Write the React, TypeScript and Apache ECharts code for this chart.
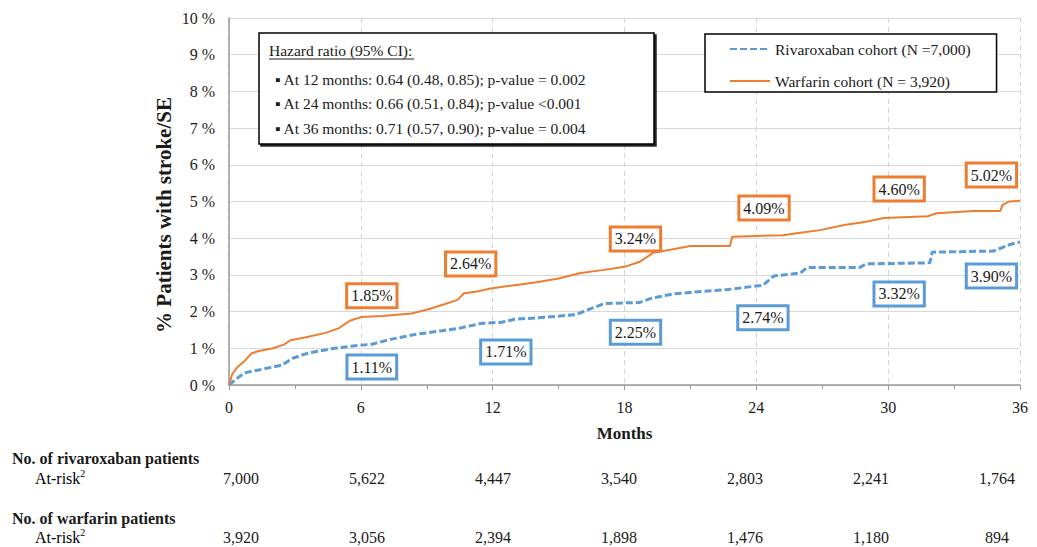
import React, { useEffect, useRef } from "react";
import * as echarts from "echarts";

const monthTicks = [0, 6, 12, 18, 24, 30, 36];

const rivaroxabanCurve: [number, number][] = [
  [0, 0], [0.3, 0.15], [0.7, 0.33], [1.35, 0.41], [2.4, 0.54], [2.9, 0.73], [3.6, 0.87],
  [4.8, 1.0], [5.9, 1.08], [6.5, 1.11], [7.4, 1.25], [8.5, 1.38], [9.7, 1.48], [10.5, 1.55],
  [11.5, 1.68], [12.4, 1.71], [13.0, 1.79], [14.5, 1.85], [15.8, 1.92], [16.5, 2.09],
  [17.1, 2.22], [18.7, 2.25], [19.2, 2.36], [20.2, 2.48], [21.5, 2.55], [22.7, 2.6],
  [24.3, 2.72], [24.8, 2.97], [26.0, 3.05], [26.3, 3.2], [28.7, 3.2], [29.0, 3.3],
  [31.9, 3.33], [32.0, 3.62], [34.8, 3.65], [35.5, 3.82], [36.0, 3.9],
];

const warfarinCurve: [number, number][] = [
  [0, 0], [0.15, 0.3], [0.4, 0.5], [0.7, 0.65], [1.0, 0.85], [1.3, 0.92], [2.0, 1.0],
  [2.5, 1.1], [2.8, 1.22], [3.5, 1.3], [4.4, 1.42], [5.0, 1.55], [5.5, 1.75], [6.0, 1.85],
  [7.0, 1.88], [8.3, 1.95], [9.0, 2.05], [9.8, 2.2], [10.4, 2.32], [10.7, 2.5], [11.3, 2.55],
  [11.9, 2.63], [13.0, 2.72], [14.0, 2.8], [15.0, 2.9], [16.0, 3.05], [17.0, 3.13],
  [18.0, 3.22], [18.7, 3.36], [19.3, 3.6], [20.2, 3.7], [21.0, 3.79], [22.8, 3.79],
  [22.9, 4.04], [24.0, 4.06], [25.2, 4.08], [26.0, 4.15], [26.9, 4.22], [28.0, 4.36],
  [29.0, 4.45], [29.8, 4.55], [31.8, 4.6], [32.2, 4.68], [33.9, 4.74], [35.1, 4.74],
  [35.2, 4.9], [35.5, 5.0], [36.0, 5.02],
];

// annotation boxes: [month, pct position, text]
const warfarinLabels: [number, number, string][] = [
  [6.5, 2.43, "1.85%"], [11.0, 3.3, "2.64%"], [18.5, 3.98, "3.24%"],
  [24.35, 4.82, "4.09%"], [30.5, 5.34, "4.60%"], [34.7, 5.72, "5.02%"],
];
const rivaroxabanLabels: [number, number, string][] = [
  [6.5, 0.49, "1.11%"], [12.6, 0.9, "1.71%"], [18.5, 1.44, "2.25%"],
  [24.3, 1.83, "2.74%"], [30.5, 2.48, "3.32%"], [34.7, 2.97, "3.90%"],
];

const rivaroxabanAtRisk = ["7,000", "5,622", "4,447", "3,540", "2,803", "2,241", "1,764"];
const warfarinAtRisk = ["3,920", "3,056", "2,394", "1,898", "1,476", "1,180", "894"];

const hazardLines = [
  "▪ At 12 months: 0.64 (0.48, 0.85); p-value = 0.002",
  "▪ At 24 months: 0.66 (0.51, 0.84); p-value <0.001",
  "▪ At 36 months: 0.71 (0.57, 0.90); p-value = 0.004",
];

const ORANGE = "#ED7D31";
const BLUE = "#5B9BD5";
const SERIF = "'Liberation Serif', 'Times New Roman', serif";
const TXT = "#1a1a1a";

function labelSeries(name: string, data: [number, number, string][], color: string) {
  return {
    name,
    type: "scatter",
    xAxisIndex: 0,
    yAxisIndex: 0,
    symbolSize: 1,
    itemStyle: { color: "rgba(0,0,0,0)", opacity: 1 },
    silent: true,
    z: 5,
    data: data.map((d) => ({ value: [d[0], d[1]], text: d[2] })),
    label: {
      show: true,
      position: "inside",
      formatter: (p: any) => p.data.text,
      fontFamily: SERIF,
      fontSize: 16,
      color: TXT,
      opacity: 1,
      backgroundColor: "#fff",
      borderColor: color,
      borderWidth: 3,
      padding: [3, 3, 2, 3],
    },
  };
}

function riskSeries(values: string[], row: number) {
  return {
    type: "scatter",
    xAxisIndex: 1,
    yAxisIndex: 1,
    symbolSize: 1,
    itemStyle: { color: "rgba(0,0,0,0)", opacity: 1 },
    silent: true,
    data: values.map((v, i) => ({ value: [monthTicks[i], row], text: v })),
    label: {
      show: true,
      position: "inside",
      formatter: (p: any) => p.data.text,
      fontFamily: SERIF,
      fontSize: 16,
      color: TXT,
      opacity: 1,
    },
  };
}

const atRiskRich = {
  a: { fontFamily: SERIF, fontSize: 16, color: TXT },
  s: { fontFamily: SERIF, fontSize: 10, color: TXT, padding: [0, 0, 9, 0] },
};

export default function App() {
  const ref = useRef<HTMLDivElement>(null);
  useEffect(() => {
    if (!ref.current) return;
    const chart = echarts.init(ref.current, undefined, { renderer: "svg" });
    chart.setOption({
      animation: false,
      backgroundColor: "#fff",
      textStyle: { fontFamily: SERIF },
      grid: [
        { left: 229, right: 17, top: 18, bottom: 162 },
        { left: 241, right: 40, top: 478, bottom: 10 },
      ],
      legend: {
        left: 705,
        top: 34,
        orient: "vertical",
        data: ["Rivaroxaban cohort (N =7,000)", "Warfarin cohort (N = 3,920)"],
        itemWidth: 40,
        itemHeight: 14,
        itemGap: 16,
        itemTextGap: 4,
        itemStyle: { opacity: 0 },
        borderColor: "#000",
        borderWidth: 1.5,
        padding: [7, 26, 3, 24],
        backgroundColor: "#fff",
        textStyle: { fontFamily: SERIF, fontSize: 15.5, color: TXT },
      },
      xAxis: [
        {
          type: "value",
          gridIndex: 0,
          min: 0,
          max: 36,
          interval: 6,
          name: "Months",
          nameLocation: "middle",
          nameGap: 40,
          nameTextStyle: { fontFamily: SERIF, fontSize: 17, fontWeight: "bold", color: TXT },
          axisLine: { show: true, lineStyle: { color: "#999", width: 1.5 } },
          axisTick: { show: true, length: 5, lineStyle: { color: "#999" } },
          minorTick: { show: true, splitNumber: 2, length: 4, lineStyle: { color: "#999" } },
          splitLine: { show: true, lineStyle: { color: "#d4d4d4", type: [5, 4] } },
          axisLabel: { fontFamily: SERIF, fontSize: 16, color: TXT, margin: 14 },
        },
        {
          type: "value",
          gridIndex: 1,
          min: 0,
          max: 36,
          interval: 6,
          show: false,
        },
      ],
      yAxis: [
        {
          type: "value",
          gridIndex: 0,
          min: 0,
          max: 10,
          interval: 1,
          axisLine: { show: true, lineStyle: { color: "#999", width: 1.5 } },
          axisTick: { show: false },
          splitLine: { show: true, lineStyle: { color: "#d9d9d9", width: 1 } },
          axisLabel: {
            fontFamily: SERIF,
            fontSize: 16,
            color: TXT,
            margin: 14,
            formatter: (v: number) => `${v} %`,
          },
        },
        {
          type: "value",
          gridIndex: 1,
          min: 0,
          max: 1,
          inverse: true,
          show: false,
        },
      ],
      series: [
        {
          name: "Rivaroxaban cohort (N =7,000)",
          type: "line",
          xAxisIndex: 0,
          yAxisIndex: 0,
          data: rivaroxabanCurve,
          showSymbol: false,
          symbol: "none",
          color: BLUE,
          lineStyle: { color: BLUE, width: 3, type: [7, 3] },
          z: 3,
        },
        {
          name: "Warfarin cohort (N = 3,920)",
          type: "line",
          xAxisIndex: 0,
          yAxisIndex: 0,
          data: warfarinCurve,
          showSymbol: false,
          symbol: "none",
          color: ORANGE,
          lineStyle: { color: ORANGE, width: 2 },
          z: 3,
        },
        labelSeries("wlab", warfarinLabels, ORANGE),
        labelSeries("rlab", rivaroxabanLabels, BLUE),
        riskSeries(rivaroxabanAtRisk, 0),
        riskSeries(warfarinAtRisk, 1),
      ],
      graphic: [
        {
          type: "text",
          x: 164,
          y: 215,
          rotation: Math.PI / 2,
          style: {
            text: "% Patients with stroke/SE",
            fontFamily: SERIF,
            fontSize: 21,
            fontWeight: "bold",
            fill: TXT,
            align: "center",
            verticalAlign: "middle",
          },
        },
        {
          type: "rect",
          shape: { x: 259, y: 33, width: 395, height: 111 },
          style: {
            fill: "#fff",
            stroke: "#000",
            lineWidth: 1.5,
            shadowColor: "rgba(0,0,0,0.85)",
            shadowOffsetX: 2,
            shadowOffsetY: 2,
            shadowBlur: 1,
          },
          z: 10,
        },
        {
          type: "text",
          x: 269,
          y: 50,
          style: {
            text: "Hazard ratio (95% CI):",
            fontFamily: SERIF,
            fontSize: 15.5,
            fill: TXT,
            verticalAlign: "middle",
          },
          z: 11,
        },
        {
          type: "line",
          shape: { x1: 269, y1: 59, x2: 414, y2: 59 },
          style: { stroke: TXT, lineWidth: 1 },
          z: 11,
        },
        ...hazardLines.map((t, i) => ({
          type: "text",
          x: 275,
          y: 79 + i * 24.5,
          style: {
            text: t,
            fontFamily: SERIF,
            fontSize: 15.5,
            fill: TXT,
            verticalAlign: "middle",
          },
          z: 11,
        })),
        {
          type: "text",
          x: 12,
          y: 458,
          style: {
            text: "No. of rivaroxaban patients",
            fontFamily: SERIF,
            fontSize: 16,
            fontWeight: "bold",
            fill: TXT,
            verticalAlign: "middle",
          },
        },
        {
          type: "text",
          x: 35,
          y: 478,
          style: { text: "{a|At-risk}{s|2}", verticalAlign: "middle", rich: atRiskRich },
        },
        {
          type: "text",
          x: 12,
          y: 518,
          style: {
            text: "No. of warfarin patients",
            fontFamily: SERIF,
            fontSize: 16,
            fontWeight: "bold",
            fill: TXT,
            verticalAlign: "middle",
          },
        },
        {
          type: "text",
          x: 35,
          y: 537,
          style: { text: "{a|At-risk}{s|2}", verticalAlign: "middle", rich: atRiskRich },
        },
      ],
    });
    return () => chart.dispose();
  }, []);
  return (
    <div
      ref={ref}
      style={{ position: "fixed", left: 0, top: 0, width: 1037, height: 547, background: "#fff" }}
    />
  );
}
